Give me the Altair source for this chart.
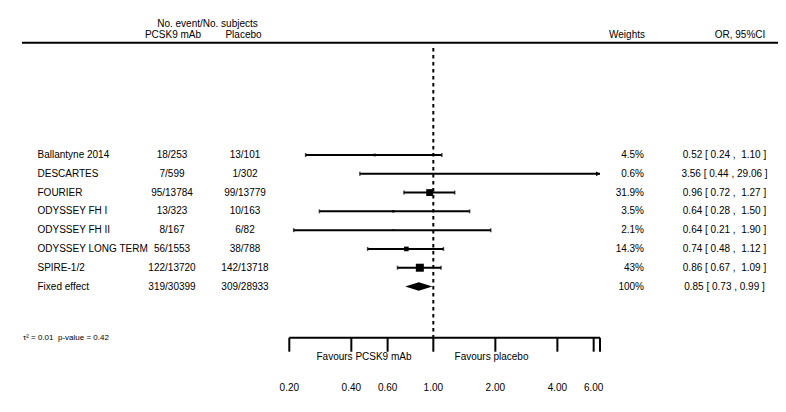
import altair as alt
import pandas as pd

# ---------------- data ----------------
studies = ["Ballantyne 2014", "DESCARTES", "FOURIER", "ODYSSEY FH I",
           "ODYSSEY FH II", "ODYSSEY LONG TERM", "SPIRE-1/2"]
pcsk9_events = ["18/253", "7/599", "95/13784", "13/323", "8/167", "56/1553", "122/13720"]
placebo_events = ["13/101", "1/302", "99/13779", "10/163", "6/82", "38/788", "142/13718"]
weights = [4.5, 0.6, 31.9, 3.5, 2.1, 14.3, 43.0]
or_est = [0.52, 3.56, 0.96, 0.64, 0.64, 0.74, 0.86]
ci_low = [0.24, 0.44, 0.72, 0.28, 0.21, 0.48, 0.67]
ci_high = [1.10, 29.06, 1.27, 1.50, 1.90, 1.12, 1.09]
weight_labels = ["4.5%", "0.6%", "31.9%", "3.5%", "2.1%", "14.3%", "43%"]
NB = "\u00a0"
or_labels = [f"0.52 [ 0.24 ,{NB} 1.10 ]", "3.56 [ 0.44 , 29.06 ]", f"0.96 [ 0.72 ,{NB} 1.27 ]",
             f"0.64 [ 0.28 ,{NB} 1.50 ]", f"0.64 [ 0.21 ,{NB} 1.90 ]", f"0.74 [ 0.48 ,{NB} 1.12 ]",
             f"0.86 [ 0.67 ,{NB} 1.09 ]"]

fixed_name = "Fixed effect"
fixed_pcsk9 = "319/30399"
fixed_placebo = "309/28933"
fixed_weight_label = "100%"
fixed_est = 0.85
fixed_low = 0.73
fixed_high = 0.99
fixed_or_label = "0.85 [ 0.73 , 0.99 ]"

tick_values = [0.2, 0.4, 0.6, 1.0, 2.0, 4.0, 6.0]
tick_labels = ["0.20", "0.40", "0.60", "1.00", "2.00", "4.00", "6.00"]
axis_max = 6.44
null_value = 1.0
tau_text = "τ² = 0.01  p-value = 0.42".replace("  ", " " + NB)

# ---------------- tables ----------------
n = len(studies)
studies_df = pd.DataFrame({
    "row": list(range(n)),
    "study": studies, "pcsk9": pcsk9_events, "placebo": placebo_events,
    "weight": weights, "est": or_est, "lo": ci_low, "hi": ci_high,
    "wlabel": weight_labels, "orlabel": or_labels,
})
studies_df["hi_plot"] = studies_df["hi"].clip(upper=axis_max)
studies_df["clipped"] = studies_df["hi"] > axis_max

text_df = pd.concat([
    studies_df[["row", "study", "pcsk9", "placebo", "wlabel", "orlabel"]],
    pd.DataFrame({"row": [n], "study": [fixed_name], "pcsk9": [fixed_pcsk9],
                  "placebo": [fixed_placebo], "wlabel": [fixed_weight_label],
                  "orlabel": [fixed_or_label]}),
], ignore_index=True)

DH = 0.22  # diamond half height in row units
diamond_df = pd.DataFrame({
    "x": [fixed_low, fixed_est, fixed_high],
    "y": [n, n - DH, n],
    "y2": [n, n + DH, n],
})

caps_df = pd.concat([
    pd.DataFrame({"row": studies_df["row"], "x": studies_df["lo"]}),
    pd.DataFrame({"row": studies_df.loc[~studies_df["clipped"], "row"],
                  "x": studies_df.loc[~studies_df["clipped"], "hi"]}),
], ignore_index=True)
arrows_df = studies_df[studies_df["clipped"]][["row", "hi_plot"]]

ticks_df = pd.DataFrame({"t": tick_values, "label": tick_labels})
ticks_all_df = pd.DataFrame({"t": tick_values + [axis_max]})
axis_df = pd.DataFrame({"a": [tick_values[0]], "b": [axis_max]})
null_df = pd.DataFrame({"x": [null_value]})

# ---------------- scales ----------------
FONT = "Liberation Sans"
xs = alt.Scale(type="log", domain=[tick_values[0], axis_max], range=[281.3, 592])
ys = alt.Scale(domain=[0, n], range=[147, 278.5])

def X(f):
    return alt.X(f, type="quantitative", scale=xs, axis=None)

def Y(f):
    return alt.Y(f, type="quantitative", scale=ys, axis=None)

base = alt.Chart(studies_df)

ci_lines = base.mark_rule(color="black", strokeWidth=2).encode(
    x=X("lo"), x2="hi_plot", y=Y("row"))
caps = alt.Chart(caps_df).mark_tick(color="black", orient="vertical", size=4,
                                    thickness=1.5).encode(x=X("x"), y=Y("row"))
arrows = alt.Chart(arrows_df).mark_point(shape="triangle-right", filled=True, size=22,
                                         color="black", opacity=1, xOffset=-2).encode(
    x=X("hi_plot"), y=Y("row"))
boxes = base.mark_square(color="black", opacity=1).encode(
    x=X("est"), y=Y("row"),
    size=alt.Size("weight:Q", scale=alt.Scale(domain=[0, 43], range=[0, 64]), legend=None))
diamond = alt.Chart(diamond_df).mark_area(color="black", orient="vertical", opacity=1).encode(
    x=X("x"), y=Y("y"), y2="y2")

null_line = alt.Chart(null_df).mark_rule(color="black", strokeWidth=2,
                                         strokeDash=[3.5, 3.5]).encode(
    x=X("x"), y=alt.value(40), y2=alt.value(330))

header_line = alt.Chart(null_df).mark_rule(color="black", strokeWidth=2).encode(
    x=alt.value(14), x2=alt.value(778), y=alt.value(34.7))

axis_line = alt.Chart(axis_df).mark_rule(color="black", strokeWidth=2).encode(
    x=X("a"), x2="b", y=alt.value(329.7))
axis_ticks = alt.Chart(ticks_all_df).mark_rule(color="black", strokeWidth=2).encode(
    x=X("t"), y=alt.value(329.7), y2=alt.value(343.7))
axis_labels = alt.Chart(ticks_df).mark_text(font=FONT, fontSize=10, color="black",
                                            baseline="middle").encode(
    x=X("t"), y=alt.value(379.7), text="label")

def col(field, xpos, align):
    return alt.Chart(text_df).mark_text(font=FONT, fontSize=10, color="black",
                                        align=align, baseline="middle").encode(
        x=alt.value(xpos), y=Y("row"), text=field)

def label(txt, xpos, ypos, align="center", size=10):
    return alt.Chart(null_df).mark_text(text=txt, font=FONT, fontSize=size, color="black",
                                        align=align, baseline="middle").encode(
        x=alt.value(xpos), y=alt.value(ypos))

chart = alt.layer(
    header_line, null_line,
    ci_lines, caps, arrows, boxes, diamond,
    axis_line, axis_ticks, axis_labels,
    col("study", 29.5, "left"), col("pcsk9", 164, "center"), col("placebo", 237, "center"),
    col("wlabel", 636, "right"), col("orlabel", 716.5, "center"),
    label("No. event/No. subjects", 199.5, 16),
    label("PCSK9 mAb", 165, 27),
    label("Placebo", 235.5, 27),
    label("Weights", 637, 27, align="right"),
    label("OR, 95%CI", 732, 27),
    label("Favours PCSK9 mAb", 356, 348.7),
    label("Favours placebo", 483.5, 348.7),
    label(tau_text, 15, 330, align="left", size=8),
).properties(
    width=770, height=396,
    autosize=alt.AutoSizeParams(type="none"),
    padding=0,
).configure_view(stroke=None)

chart.save("out.html", embed_options={"renderer": "svg", "actions": False})
